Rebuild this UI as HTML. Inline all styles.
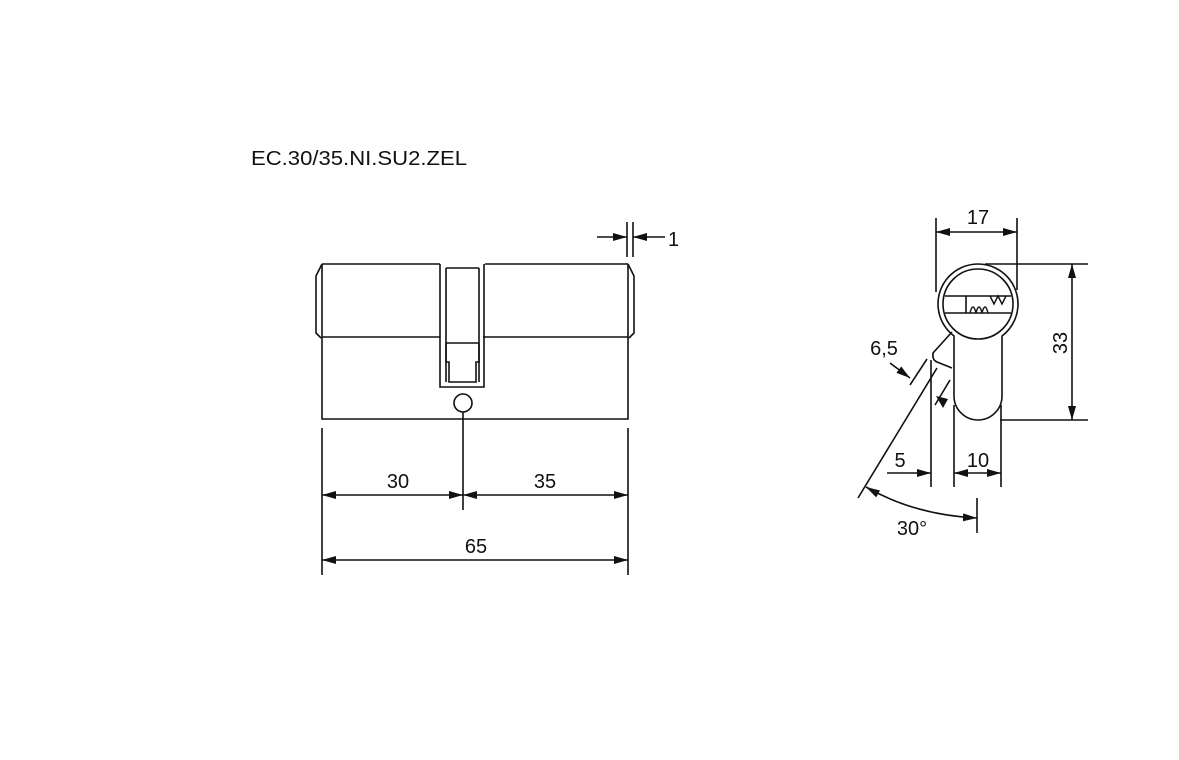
<!DOCTYPE html>
<html><head><meta charset="utf-8"><style>
html,body{margin:0;padding:0;background:#fff;}
svg{display:block;}
text{font-family:"Liberation Sans",Arial,sans-serif;fill:#111;}
</style></head><body>
<svg width="1179" height="760" viewBox="0 0 1179 760" xmlns="http://www.w3.org/2000/svg">
<defs>
<marker id="a" viewBox="0 0 14 8" refX="14" refY="4" markerWidth="14" markerHeight="8" markerUnits="userSpaceOnUse" orient="auto-start-reverse">
<path d="M0,0 L14,4 L0,8 Z" fill="#111"/></marker>
</defs>
<text x="251" y="165" font-size="20.5" textLength="216" lengthAdjust="spacingAndGlyphs">EC.30/35.NI.SU2.ZEL</text>
<g stroke="#111" stroke-width="1.6" fill="none">
<path d="M322,264 H440 M485,264 H628 M322,264 V419 H628 V264"/>
<path d="M322,337 H440 M483,337 H628"/>
<path d="M322,264 L316,276 V333 L321,338"/>
<path d="M628,264 L634,276 V333 L629,338"/>
<path d="M440,264 V387 H484 V264"/>
<path d="M446,268 H479 M446,268 V382 M479,268 V382"/>
<path d="M446,343 H479"/>
<path d="M446,343 V362 H449 V382 H476 V362 H479 V343"/>
<circle cx="463" cy="403" r="9"/>
<path d="M322,428 V575 M628,428 V575 M463,412 V510"/>
<path d="M322,495 L463,495" marker-start="url(#a)" marker-end="url(#a)"/>
<path d="M463,495 L628,495" marker-start="url(#a)" marker-end="url(#a)"/>
<path d="M322,560 L628,560" marker-start="url(#a)" marker-end="url(#a)"/>
<path d="M627,222 V257 M633,222 V257"/>
<path d="M597,237 H627" marker-end="url(#a)"/>
<path d="M665,237 H633" marker-end="url(#a)"/>
</g>
<g font-size="20">
<text x="398" y="488" text-anchor="middle">30</text>
<text x="545" y="488" text-anchor="middle">35</text>
<text x="476" y="553" text-anchor="middle">65</text>
<text x="668" y="246">1</text>
</g>
<g stroke="#111" stroke-width="1.6" fill="none">
<path d="M954,336 A40,40 0 1 1 1002,336 V396 A24,24 0 0 1 954,396 Z"/>
<circle cx="978" cy="304" r="35"/>
<path d="M945,296 H1011 M945,313 H1011 M966,296 V313"/>
<path d="M970,313 q3,-12 6,0 q3,-12 6,0 q3,-12 6,0" stroke-width="1.4"/>
<path d="M990,296 l4,8 l4,-8 l4,8 l4,-8" stroke-width="1.4"/>
<path d="M952,332 L933,353 Q932,360 937,362 L952,368"/>
<path d="M936,218 V292 M1017,218 V290"/>
<path d="M936,232 H1017" marker-start="url(#a)" marker-end="url(#a)"/>
<path d="M985,264 H1088 M1000,420 H1088"/>
<path d="M1072,264 V420" marker-start="url(#a)" marker-end="url(#a)"/>
<path d="M931,360 V487 M954,405 V487 M1001,405 V487"/>
<path d="M887,473 H931" marker-end="url(#a)"/>
<path d="M954,473 H1001" marker-start="url(#a)" marker-end="url(#a)"/>
<path d="M858,498 L937,368"/>
<path d="M910,385 L927,359"/>
<path d="M935,405 L950,380"/>
<path d="M890,363 L910,378" marker-end="url(#a)"/>
<path d="M866,487 Q915,515 977,518" marker-start="url(#a)" marker-end="url(#a)"/>
<path d="M977,498 V533"/>
</g>
<path d="M936,396 L948,399 L943,408 Z" fill="#111"/>
<g font-size="20">
<text x="978" y="224" text-anchor="middle">17</text>
<text x="0" y="0" text-anchor="middle" transform="translate(1067,343) rotate(-90)">33</text>
<text x="884" y="355" text-anchor="middle">6,5</text>
<text x="900" y="467" text-anchor="middle">5</text>
<text x="978" y="467" text-anchor="middle">10</text>
<text x="912" y="535" text-anchor="middle">30°</text>
</g>
</svg>
</body></html>
